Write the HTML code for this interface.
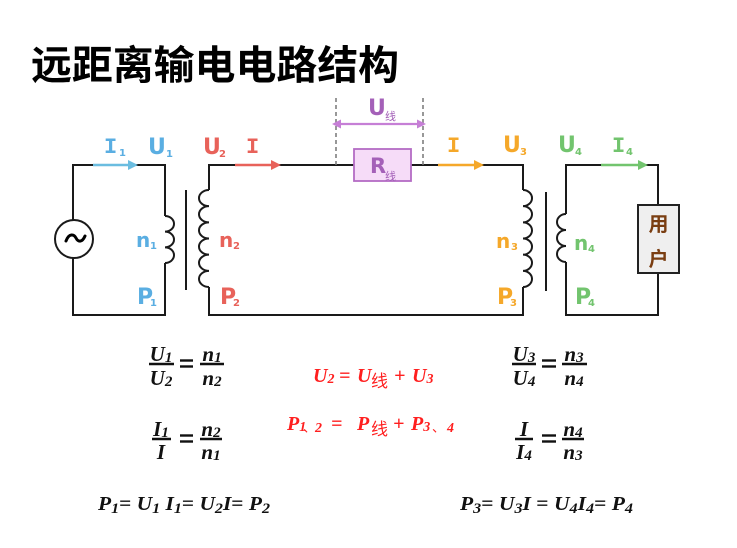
<!DOCTYPE html>
<html><head><meta charset="utf-8"><style>
html,body{margin:0;padding:0;background:#fff;}
svg{display:block;}
.t{font-family:"Noto Sans CJK SC","WenQuanYi Zen Hei",sans-serif;font-weight:700;}
.lb{font-family:"DejaVu Sans","Liberation Sans",sans-serif;font-weight:700;}
.mi{font-family:"Liberation Mono",monospace;font-weight:700;}
.cj{font-family:"Noto Sans CJK SC","WenQuanYi Zen Hei",sans-serif;}
.m{font-family:"Liberation Serif","DejaVu Serif",serif;font-weight:700;font-style:italic;}
</style></head><body>
<svg width="737" height="548" viewBox="0 0 737 548" xmlns="http://www.w3.org/2000/svg">
<rect width="737" height="548" fill="#fff"/>
<text x="31" y="79" class="t" font-size="40" fill="#000" textLength="368" lengthAdjust="spacingAndGlyphs">远距离输电电路结构</text>

<g fill="none" stroke="#1a1a1a" stroke-width="2">
<!-- circuit 1 -->
<path d="M73,220 V165 H165 V216 M165,263 V315 H73 V258"/>
<path d="M165,216 a9,7.83 0 0 1 0,15.67 a9,7.83 0 0 1 0,15.67 a9,7.83 0 0 1 0,15.67"/>
<circle cx="74" cy="239" r="19"/>
<line x1="186" y1="190" x2="186" y2="290"/>
<!-- circuit 2 -->
<path d="M209,190 V165 H354 M411,165 H523 V190 M523,287 V315 H209 V287"/>
<path d="M209,190 a10,8.08 0 0 0 0,16.17 a10,8.08 0 0 0 0,16.17 a10,8.08 0 0 0 0,16.17 a10,8.08 0 0 0 0,16.17 a10,8.08 0 0 0 0,16.17 a10,8.08 0 0 0 0,16.17"/>
<path d="M523,190 a9,8.08 0 0 1 0,16.17 a9,8.08 0 0 1 0,16.17 a9,8.08 0 0 1 0,16.17 a9,8.08 0 0 1 0,16.17 a9,8.08 0 0 1 0,16.17 a9,8.08 0 0 1 0,16.17"/>
<line x1="546" y1="192" x2="546" y2="291"/>
<!-- circuit 4 -->
<path d="M566,214 V165 H658 V205 M658,273 V315 H566 V262"/>
<path d="M566,214 a9,8 0 0 0 0,16 a9,8 0 0 0 0,16 a9,8 0 0 0 0,16"/>
</g>
<path d="M66,241 C69,233 74,234 76,238 C78,242 82,243 85,236" fill="none" stroke="#000" stroke-width="3" stroke-linecap="round"/>

<!-- dashed lines -->
<g stroke="#777" stroke-width="1.5" stroke-dasharray="4,3">
<line x1="336" y1="98" x2="336" y2="165"/>
<line x1="423" y1="98" x2="423" y2="165"/>
</g>
<!-- purple double arrow -->
<line x1="338" y1="124" x2="420" y2="124" stroke="#c67fd6" stroke-width="2.2"/>
<polygon points="332,124 341,119.5 341,128.5" fill="#c67fd6"/>
<polygon points="426,124 417,119.5 417,128.5" fill="#c67fd6"/>
<!-- R box -->
<rect x="354" y="149" width="57" height="32" fill="#f6dcf8" stroke="#b46cc4" stroke-width="1.8"/>

<!-- arrows -->
<line x1="93" y1="165" x2="131" y2="165" stroke="#6bbde0" stroke-width="2.5"/>
<polygon points="138,165 128,160 128,170" fill="#6bbde0"/>
<line x1="235" y1="165" x2="274" y2="165" stroke="#e8625a" stroke-width="2.5"/>
<polygon points="281,165 271,160 271,170" fill="#e8625a"/>
<line x1="438" y1="165" x2="477" y2="165" stroke="#f5a82a" stroke-width="2.5"/>
<polygon points="484,165 474,160 474,170" fill="#f5a82a"/>
<line x1="601" y1="165" x2="641" y2="165" stroke="#72c46e" stroke-width="2.5"/>
<polygon points="648,165 638,160 638,170" fill="#72c46e"/>

<!-- user box -->
<rect x="638" y="205" width="41" height="68" fill="#efefef" stroke="#222" stroke-width="2"/>
<text x="658.5" y="231" text-anchor="middle" class="t" font-size="20" fill="#7a3e12">用</text>
<text x="658.5" y="266" text-anchor="middle" class="t" font-size="20" fill="#7a3e12">户</text>

<!-- labels -->
<g fill="#5aaee2">
<text x="104" y="153" class="mi" font-size="22">I</text><text x="119" y="156" class="lb" font-size="10">1</text>
<text x="148" y="154" class="lb" font-size="22">U</text><text x="166" y="157" class="lb" font-size="10">1</text>
<text x="136" y="247" class="lb" font-size="20">n</text><text x="150" y="249" class="lb" font-size="10">1</text>
<text x="137" y="304" class="lb" font-size="22">P</text><text x="150" y="306" class="lb" font-size="10">1</text>
</g>
<g fill="#e8625a">
<text x="203" y="154" class="lb" font-size="22">U</text><text x="219" y="157" class="lb" font-size="10">2</text>
<text x="246" y="153" class="mi" font-size="22">I</text>
<text x="219" y="247" class="lb" font-size="20">n</text><text x="233" y="249" class="lb" font-size="10">2</text>
<text x="220" y="304" class="lb" font-size="22">P</text><text x="233" y="306" class="lb" font-size="10">2</text>
</g>
<g fill="#a460b8">
<text x="368" y="115" class="lb" font-size="22">U</text><text x="385" y="120" class="cj" font-size="11">线</text>
<text x="370" y="173" class="lb" font-size="21">R</text><text x="385" y="180" class="cj" font-size="11">线</text>
</g>
<g fill="#f5a82a">
<text x="447" y="152" class="mi" font-size="22">I</text>
<text x="503" y="152" class="lb" font-size="22">U</text><text x="520" y="155" class="lb" font-size="10">3</text>
<text x="496" y="248" class="lb" font-size="20">n</text><text x="511" y="250" class="lb" font-size="10">3</text>
<text x="497" y="304" class="lb" font-size="22">P</text><text x="510" y="306" class="lb" font-size="10">3</text>
</g>
<g fill="#72c46e">
<text x="558" y="152" class="lb" font-size="22">U</text><text x="575" y="155" class="lb" font-size="10">4</text>
<text x="612" y="152" class="mi" font-size="22">I</text><text x="626" y="155" class="lb" font-size="10">4</text>
<text x="574" y="250" class="lb" font-size="20">n</text><text x="588" y="252" class="lb" font-size="10">4</text>
<text x="575" y="304" class="lb" font-size="22">P</text><text x="588" y="306" class="lb" font-size="10">4</text>
</g>

<!-- formulas -->
<g class="m" fill="#111" font-size="21">
<!-- U1/U2 = n1/n2 -->
<text x="161" y="361" text-anchor="middle">U<tspan font-size="15" dy="1">1</tspan></text>
<text x="161" y="385" text-anchor="middle">U<tspan font-size="15" dy="1">2</tspan></text>
<text x="212" y="361" text-anchor="middle">n<tspan font-size="15" dy="1">1</tspan></text>
<text x="212" y="385" text-anchor="middle">n<tspan font-size="15" dy="1">2</tspan></text>
<!-- I1/I = n2/n1 -->
<text x="161" y="436" text-anchor="middle">I<tspan font-size="15" dy="1">1</tspan></text>
<text x="161" y="459" text-anchor="middle">I</text>
<text x="211" y="436" text-anchor="middle">n<tspan font-size="15" dy="1">2</tspan></text>
<text x="211" y="459" text-anchor="middle">n<tspan font-size="15" dy="1">1</tspan></text>
<!-- U3/U4 = n3/n4 -->
<text x="524" y="361" text-anchor="middle">U<tspan font-size="15" dy="1">3</tspan></text>
<text x="524" y="385" text-anchor="middle">U<tspan font-size="15" dy="1">4</tspan></text>
<text x="574" y="361" text-anchor="middle">n<tspan font-size="15" dy="1">3</tspan></text>
<text x="574" y="385" text-anchor="middle">n<tspan font-size="15" dy="1">4</tspan></text>
<!-- I/I4 = n4/n3 -->
<text x="524" y="436" text-anchor="middle">I</text>
<text x="524" y="459" text-anchor="middle">I<tspan font-size="15" dy="1">4</tspan></text>
<text x="573" y="436" text-anchor="middle">n<tspan font-size="15" dy="1">4</tspan></text>
<text x="573" y="459" text-anchor="middle">n<tspan font-size="15" dy="1">3</tspan></text>
</g>
<g stroke="#111" stroke-width="2.4">
<line x1="149" y1="364" x2="174" y2="364"/><line x1="200" y1="364" x2="224" y2="364"/>
<line x1="180" y1="360.5" x2="193" y2="360.5"/><line x1="180" y1="366.5" x2="193" y2="366.5"/>
<line x1="152" y1="439" x2="171" y2="439"/><line x1="200" y1="439" x2="222" y2="439"/>
<line x1="180" y1="435.5" x2="193" y2="435.5"/><line x1="180" y1="441.5" x2="193" y2="441.5"/>
<line x1="512" y1="364" x2="536" y2="364"/><line x1="562" y1="364" x2="587" y2="364"/>
<line x1="542" y1="360.5" x2="556" y2="360.5"/><line x1="542" y1="366.5" x2="556" y2="366.5"/>
<line x1="515" y1="439" x2="533" y2="439"/><line x1="562" y1="439" x2="584" y2="439"/>
<line x1="542" y1="435.5" x2="556" y2="435.5"/><line x1="542" y1="441.5" x2="556" y2="441.5"/>
</g>

<!-- red formulas -->
<g fill="#ff1f1f" font-size="20">
<text class="m" x="313" y="382">U<tspan font-size="14" dy="1">2</tspan></text>
<text class="m" x="339" y="382" font-style="normal">=</text>
<text class="m" x="357" y="382">U</text>
<text class="cj" x="371" y="387" font-size="17">线</text>
<text class="m" x="394" y="382" font-style="normal">+</text>
<text class="m" x="412" y="382">U<tspan font-size="14" dy="1">3</tspan></text>

<text class="m" x="287" y="430">P<tspan font-size="14" dy="1">1</tspan></text>
<text class="cj" x="303" y="432" font-size="13">、</text>
<text class="m" x="315" y="432" font-size="14">2</text>
<text class="m" x="331" y="430" font-style="normal">=</text>
<text class="m" x="357" y="430">P</text>
<text class="cj" x="371" y="435" font-size="17">线</text>
<text class="m" x="393" y="430" font-style="normal">+</text>
<text class="m" x="411" y="430">P<tspan font-size="14" dy="1">3</tspan></text>
<text class="cj" x="432" y="432" font-size="13">、</text>
<text class="m" x="447" y="432" font-size="14">4</text>
</g>

<!-- bottom -->
<g class="m" fill="#111" font-size="20">
<text x="98" y="510" textLength="172" lengthAdjust="spacingAndGlyphs">P<tspan font-size="15" dy="3">1</tspan><tspan dy="-3" font-style="normal">= </tspan>U<tspan font-size="15" dy="3">1</tspan><tspan dy="-3"> I</tspan><tspan font-size="15" dy="3">1</tspan><tspan dy="-3" font-style="normal">= </tspan>U<tspan font-size="15" dy="3">2</tspan><tspan dy="-3">I</tspan><tspan font-style="normal">= </tspan>P<tspan font-size="15" dy="3">2</tspan></text>
<text x="460" y="510" textLength="173" lengthAdjust="spacingAndGlyphs">P<tspan font-size="15" dy="3">3</tspan><tspan dy="-3" font-style="normal">= </tspan>U<tspan font-size="15" dy="3">3</tspan><tspan dy="-3">I </tspan><tspan font-style="normal">= </tspan>U<tspan font-size="15" dy="3">4</tspan><tspan dy="-3">I</tspan><tspan font-size="15" dy="3">4</tspan><tspan dy="-3" font-style="normal">= </tspan>P<tspan font-size="15" dy="3">4</tspan></text>
</g>
</svg>
</body></html>
